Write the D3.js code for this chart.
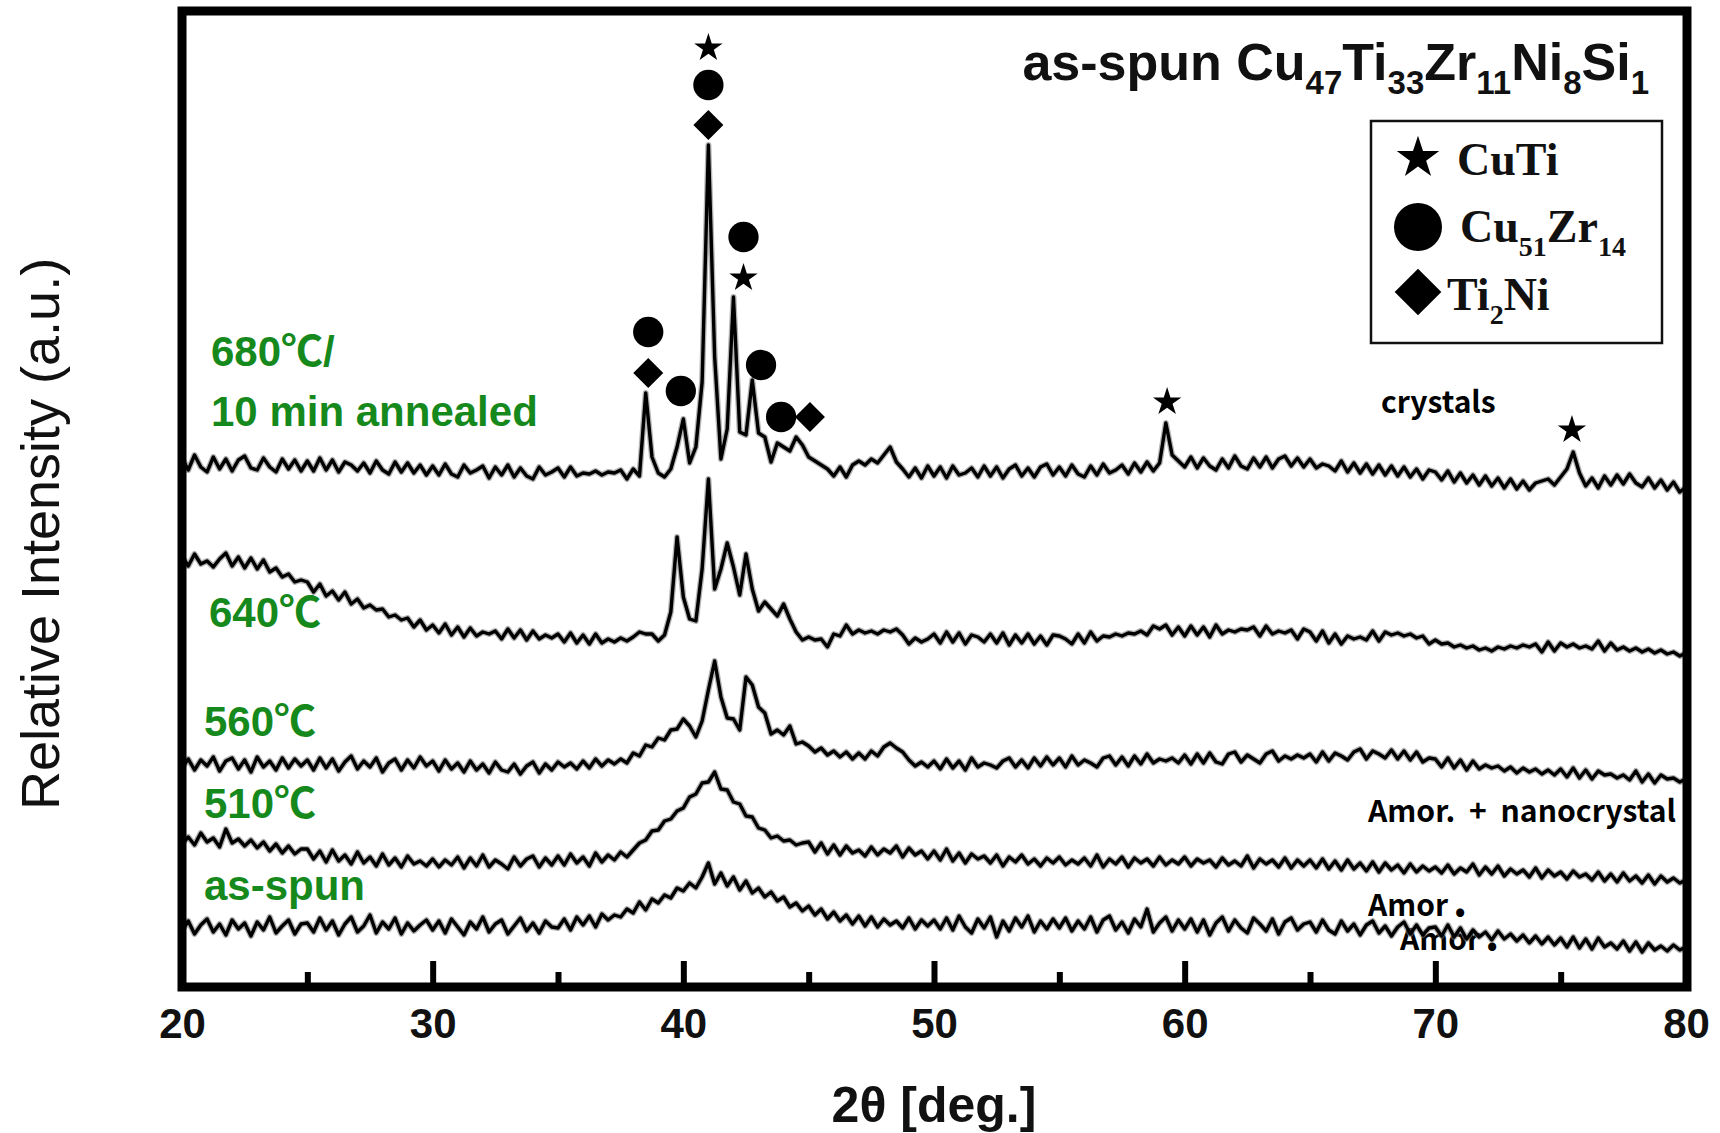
<!DOCTYPE html>
<html>
<head>
<meta charset="utf-8">
<script src="https://cdn.jsdelivr.net/npm/d3@7"></script>
<style>
body { margin: 0; background: #fff; }
svg { display: block; }
</style>
</head>
<body>
<svg></svg>
<script>
// 2theta grid of the scans: 20 to 80 deg, 0.25 deg steps
var thetaStart = 20, thetaStep = 0.25, thetaCount = 241;

// intensities (a.u.), one row = 5 deg
var asSpun = [
    56,66,53,62,68,55,63,52,67,58,64,51,65,57,70,54,61,67,53,63,
    64,55,69,57,66,52,63,70,55,61,72,54,65,58,69,53,64,56,62,67,
    57,66,54,68,60,52,65,58,70,55,63,67,53,61,69,56,64,54,66,60,
    59,68,57,70,62,71,60,73,67,72,70,78,74,85,77,88,84,92,89,99,
    96,104,99,110,124,103,114,101,110,97,106,94,99,90,95,86,90,80,84,76,
    81,72,78,68,75,66,72,63,71,61,70,60,68,62,66,59,69,58,67,61,
    67,58,69,57,71,60,54,68,59,70,50,66,56,69,60,71,55,66,58,68,
    59,69,56,66,58,70,55,67,71,57,65,54,68,60,78,55,64,70,56,67,
    58,68,55,67,52,64,70,56,67,59,54,69,63,56,68,53,65,69,57,63,
    65,55,67,57,53,66,56,63,52,62,66,54,61,51,60,65,53,62,52,59,
    60,51,62,50,59,48,57,50,55,47,56,48,53,46,52,44,51,43,50,42,
    49,40,50,39,48,38,49,40,44,38,46,36,45,35,44,37,41,36,42,37,
    40
];
var t510 = [
    73,80,72,84,75,79,70,88,74,78,71,77,69,75,66,73,64,71,63,68,
    68,58,66,55,67,56,62,53,65,54,60,51,63,52,59,50,61,53,56,51,
    58,50,57,52,60,49,59,51,62,50,57,53,48,60,51,58,61,50,59,52,
    61,52,63,54,60,51,64,55,62,57,65,60,67,74,77,86,87,96,98,106,
    109,120,123,134,135,145,128,127,115,113,101,100,89,87,79,81,76,77,72,74,
    75,65,74,63,72,62,71,64,67,61,70,62,68,64,71,60,69,62,66,58,
    66,57,68,56,64,54,63,58,61,54,62,51,60,55,62,53,58,51,59,54,
    60,52,57,53,59,51,62,50,58,53,60,50,59,54,58,51,60,52,57,53,
    60,51,58,54,57,50,59,52,56,51,61,49,58,53,57,50,59,49,57,51,
    57,49,58,48,56,47,57,48,54,46,55,45,54,47,52,44,53,45,51,46,
    50,44,52,43,49,45,53,42,50,43,51,41,48,43,47,40,49,39,47,41,
    45,38,46,40,43,37,45,36,43,35,44,36,41,34,42,33,41,35,39,34,
    37
];
var t560 = [
    59,68,57,67,61,70,56,66,69,58,67,55,70,60,66,57,69,59,68,61,
    67,57,69,59,68,56,65,71,58,66,60,69,55,64,68,57,67,59,70,61,
    66,56,67,58,64,55,66,57,63,54,65,57,55,63,53,61,65,54,63,57,
    65,60,64,58,66,59,68,61,67,63,68,64,74,71,82,80,89,87,97,98,
    108,101,90,106,137,166,130,109,108,97,150,142,120,114,93,97,92,101,83,85,
    81,75,79,72,76,70,75,68,74,68,76,71,80,84,79,75,67,61,65,60,
    66,58,68,59,66,57,69,60,64,62,59,66,69,60,67,59,69,61,70,62,
    69,60,71,62,67,64,60,69,71,62,70,61,71,63,73,64,68,66,69,64,
    72,63,73,64,74,65,63,73,75,65,72,68,64,73,76,66,71,68,72,69,
    73,65,75,66,74,71,67,75,78,68,76,73,69,77,68,76,67,75,65,69,
    68,60,69,59,67,57,66,58,62,59,61,56,60,54,59,55,58,53,57,52,
    58,50,59,49,57,48,56,52,53,49,52,47,56,45,53,44,52,48,49,45,
    48
];
var t640 = [
    151,141,153,143,146,140,148,154,141,150,139,149,138,147,135,139,130,133,125,127,
    125,115,123,111,116,107,115,103,108,99,102,97,98,90,92,87,89,80,87,77,
    82,74,83,72,80,70,79,71,75,73,76,68,78,69,77,67,76,68,72,69,
    73,65,74,64,72,63,73,64,68,65,69,66,70,75,73,73,66,72,95,170,
    110,88,86,138,228,118,138,164,140,112,153,118,96,105,98,91,103,88,75,67,
    70,67,68,60,73,71,82,73,77,74,76,73,77,75,78,72,63,69,65,68,
    73,64,75,65,74,63,72,70,65,73,64,74,62,72,64,73,63,71,62,72,
    71,68,63,73,64,75,66,71,70,73,71,74,73,76,72,81,78,82,72,80,
    71,81,72,80,70,82,73,77,75,78,77,80,71,81,73,76,74,77,68,78,
    75,66,76,64,73,63,71,68,70,67,76,66,75,72,74,71,73,69,71,63,
    67,63,64,60,62,59,61,57,59,56,60,58,61,59,62,60,63,55,65,56,
    64,60,63,59,61,58,66,56,64,57,60,56,59,55,58,54,57,53,55,51,
    54
];
var t680 = [
    89,77,92,80,75,90,78,88,76,87,91,79,77,89,80,75,88,78,87,76,
    86,76,89,77,87,75,85,82,76,84,74,86,77,73,85,75,84,74,82,72,
    81,72,83,73,70,82,74,77,81,69,80,72,82,70,79,71,68,80,72,75,
    79,70,80,71,74,73,76,72,75,74,77,68,78,71,154,90,74,70,78,100,
    128,84,100,165,402,190,88,118,250,115,112,167,114,110,85,104,100,96,110,102,
    90,86,82,78,71,80,70,82,86,82,88,84,92,100,85,78,70,79,69,81,
    71,80,69,81,72,74,79,70,81,71,80,69,78,82,71,79,70,80,83,72,
    80,71,82,73,70,81,72,83,74,77,82,73,84,75,85,76,84,124,92,86,
    80,90,79,89,81,77,88,79,91,81,78,89,80,90,79,88,91,81,89,80,
    88,79,83,81,76,86,75,84,74,83,73,82,72,81,71,80,70,78,68,77,
    75,67,76,65,74,64,72,62,71,61,69,59,68,58,66,57,64,66,68,62,
    70,78,95,74,61,69,59,71,62,72,63,73,64,60,69,59,67,57,65,55,
    60
];

var seriesValues = [asSpun, t510, t560, t640, t680];
var seriesOffsets = [0, 70, 160, 280, 440];
var sampleLabels = ["680\u2103/", "10 min annealed", "640\u2103", "560\u2103", "510\u2103", "as-spun"];

// phase marks over the 680 C scan
var markTheta = [41.0, 41.0, 41.0, 42.4, 42.4, 38.6, 38.6, 39.9, 43.1, 43.9, 45.05, 59.3, 75.45];
var markLevel = [939, 902, 862, 750, 709, 655, 614, 596, 622, 570, 570, 585, 557];
var markPhase = ["CuTi", "Cu51Zr14", "Ti2Ni", "Cu51Zr14", "CuTi", "Cu51Zr14", "Ti2Ni",
    "Cu51Zr14", "Cu51Zr14", "Cu51Zr14", "Ti2Ni", "CuTi", "CuTi"];

var majorTicks = [20, 30, 40, 50, 60, 70, 80];
var minorTicks = [25, 35, 45, 55, 65, 75];

var titleParts = [["as-spun Cu", 0], ["47", 1], ["Ti", 0], ["33", 1], ["Zr", 0], ["11", 1], ["Ni", 0], ["8", 1], ["Si", 0], ["1", 1]];
var legendPhases = ["CuTi", "Cu51Zr14", "Ti2Ni"];
var legendParts = [
    [["CuTi", 0]],
    [["Cu", 0], ["51", 1], ["Zr", 0], ["14", 1]],
    [["Ti", 0], ["2", 1], ["Ni", 0]]
];

var width = 1720, height = 1133;
var plot = { left: 182, right: 1687, top: 11, bottom: 987 };
var sans = "'Liberation Sans', Arial, 'Noto Sans CJK KR', sans-serif";
var green = "#16891d";

var svg, xScale, yScale, lineGenerator, thetas;

function phaseSymbol(phase, big) {
    if (phase === "CuTi") return d3.symbol(d3.symbolStar, big ? 560 : 250)();
    if (phase === "Cu51Zr14") return d3.symbol(d3.symbolCircle, big ? 1810 : 720)();
    return d3.symbol(d3.symbolSquare, big ? 1090 : 450)();
}

function writeParts(text, parts, size, subSize, drop) {
    var down = false;
    parts.forEach(p => {
        var t = text.append("tspan").text(p[0]);
        if (p[1] && !down) { t.attr("dy", drop).attr("font-size", subSize); down = true; }
        else if (p[1]) { t.attr("font-size", subSize); }
        else if (down) { t.attr("dy", -drop).attr("font-size", size); down = false; }
    });
}

window.onload = () => {
    thetas = d3.range(thetaCount).map(i => thetaStart + i * thetaStep);

    svg = d3.select("svg")
        .attr("width", width)
        .attr("height", height);

    xScale = d3.scaleLinear()
        .domain([20, 80])
        .range([plot.left, 1686]);

    yScale = d3.scaleLinear()
        .domain([0, 976])
        .range([plot.bottom, plot.top]);

    // text that sits behind the scans
    var notes = svg.append("g")
        .attr("font-family", "'Noto Sans CJK KR', 'Noto Sans', sans-serif")
        .attr("font-weight", 700)
        .attr("font-size", 30)
        .attr("fill", "#000");

    notes.append("text").attr("x", 1381).attr("y", 413).text("crystals");
    notes.append("text").attr("x", 1368).attr("y", 822)
        .attr("textLength", 308)
        .attr("lengthAdjust", "spacingAndGlyphs")
        .style("white-space", "pre").text("Amor.  +  nanocrystal");
    var amor1 = notes.append("text").attr("x", 1368).attr("y", 916).text("Amor");
    amor1.append("tspan").attr("dx", 5).attr("font-size", 44).text(".");
    var amor2 = notes.append("text").attr("x", 1400).attr("y", 950).text("Amor");
    amor2.append("tspan").attr("dx", 5).attr("font-size", 44).text(".");

    // sample labels
    var lab = svg.append("g")
        .attr("font-family", sans)
        .attr("font-weight", 700)
        .attr("font-size", 42)
        .attr("fill", green);
    var labX = [211, 211, 209, 204, 204, 204];
    var labY = [366, 426, 627, 736, 818, 900];
    sampleLabels.forEach((s, i) => {
        lab.append("text").attr("x", labX[i]).attr("y", labY[i]).text(s);
    });

    lineGenerator = d3.line()
        .x((d, i) => xScale(thetas[i]))
        .y(d => yScale(d));

    // scans: a soft grey halo under a dark trace, like the scanned original
    var scans = svg.append("g");
    scans.selectAll("path.halo")
        .data(seriesValues)
        .join("path")
        .attr("class", "halo")
        .attr("fill", "none")
        .attr("stroke", "#777")
        .attr("stroke-opacity", 0.55)
        .attr("stroke-width", 6)
        .attr("stroke-linejoin", "round")
        .attr("d", (vals, k) => lineGenerator(vals.map(v => v + seriesOffsets[k])));
    scans.selectAll("path.line")
        .data(seriesValues)
        .join("path")
        .attr("class", "line")
        .attr("fill", "none")
        .attr("stroke", "#000")
        .attr("stroke-width", 3.4)
        .attr("stroke-linejoin", "round")
        .attr("d", (vals, k) => lineGenerator(vals.map(v => v + seriesOffsets[k])));

    // phase marks
    svg.append("g")
        .selectAll("path")
        .data(markTheta)
        .join("path")
        .attr("fill", "#000")
        .attr("d", (d, i) => phaseSymbol(markPhase[i], false))
        .attr("transform", (d, i) => "translate(" + xScale(d) + "," + yScale(markLevel[i]) + ")" +
            (markPhase[i] === "Ti2Ni" ? " rotate(45)" : ""));

    // ticks inside the bottom axis
    var majorAxis = d3.axisBottom(xScale)
        .tickValues(majorTicks)
        .tickSizeInner(-26)
        .tickSizeOuter(0)
        .tickFormat(d3.format("d"));
    var gx = svg.append("g")
        .attr("transform", "translate(0," + plot.bottom + ")")
        .call(majorAxis);
    gx.select(".domain").remove();
    gx.selectAll(".tick line").attr("stroke", "#000").attr("stroke-width", 6);
    gx.selectAll(".tick text")
        .attr("y", 51)
        .attr("dy", null)
        .attr("fill", "#111")
        .attr("font-family", sans)
        .attr("font-weight", 700)
        .attr("font-size", 42);

    var minorAxis = d3.axisBottom(xScale)
        .tickValues(minorTicks)
        .tickSizeInner(-15)
        .tickSizeOuter(0)
        .tickFormat("");
    var gm = svg.append("g")
        .attr("transform", "translate(0," + plot.bottom + ")")
        .call(minorAxis);
    gm.select(".domain").remove();
    gm.selectAll(".tick line").attr("stroke", "#000").attr("stroke-width", 6);

    // frame
    svg.append("rect")
        .attr("x", plot.left)
        .attr("y", plot.top)
        .attr("width", plot.right - plot.left)
        .attr("height", plot.bottom - plot.top)
        .attr("fill", "none")
        .attr("stroke", "#000")
        .attr("stroke-width", 9);

    // axis titles
    svg.append("text")
        .attr("x", 934)
        .attr("y", 1122)
        .attr("text-anchor", "middle")
        .attr("font-family", sans)
        .attr("font-weight", 700)
        .attr("font-size", 50)
        .attr("fill", "#111")
        .text("2\u03b8 [deg.]");

    svg.append("text")
        .attr("transform", "translate(59,534) rotate(-90)")
        .attr("text-anchor", "middle")
        .attr("font-family", sans)
        .attr("font-size", 54)
        .attr("fill", "#111")
        .text("Relative Intensity (a.u.)");

    // composition title
    var title = svg.append("text")
        .attr("x", 1649)
        .attr("y", 80)
        .attr("text-anchor", "end")
        .attr("font-family", sans)
        .attr("font-weight", 700)
        .attr("font-size", 52)
        .attr("fill", "#111");
    writeParts(title, titleParts, 52, 33, 14);

    // legend
    svg.append("rect")
        .attr("x", 1371)
        .attr("y", 121)
        .attr("width", 291)
        .attr("height", 222)
        .attr("fill", "#fff")
        .attr("stroke", "#111")
        .attr("stroke-width", 2.5);

    var legY = [158, 227, 292];
    var legTextX = [1457, 1460, 1447];
    var legBase = [175, 242, 310];
    legendPhases.forEach((p, i) => {
        svg.append("path")
            .attr("d", phaseSymbol(p, true))
            .attr("fill", "#000")
            .attr("transform", "translate(1418," + legY[i] + ")" + (p === "Ti2Ni" ? " rotate(45)" : ""));
        var t = svg.append("text")
            .attr("x", legTextX[i])
            .attr("y", legBase[i])
            .attr("font-family", "'Liberation Serif', 'Times New Roman', serif")
            .attr("font-weight", 700)
            .attr("font-size", 46)
            .attr("fill", "#111");
        writeParts(t, legendParts[i], 46, 28, 14);
    });
}
</script>
</body>
</html>
